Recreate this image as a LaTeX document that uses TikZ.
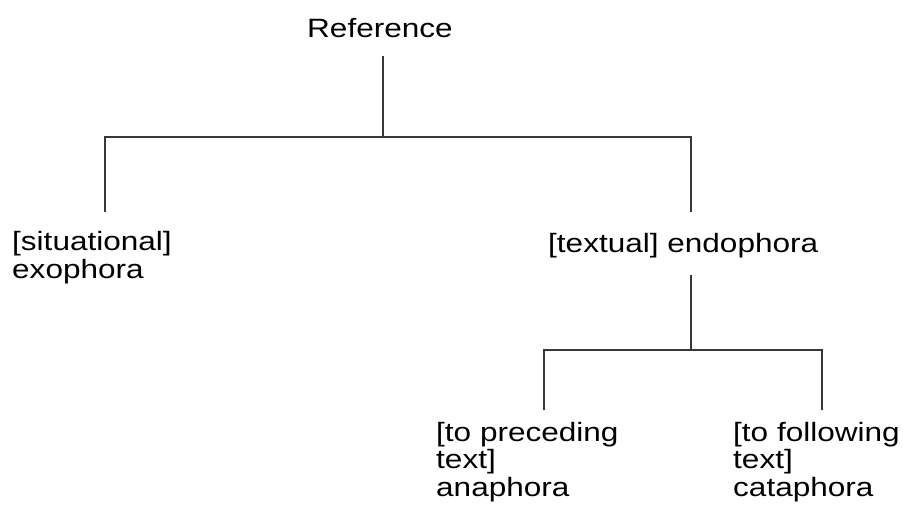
\documentclass[tikz,border=0pt]{standalone}
\usepackage{fontspec}
\setmainfont{Liberation Sans}[FakeStretch=1.19]
\usetikzlibrary{positioning}

\begin{document}
\begin{tikzpicture}[x=1pt,y=-1pt,
		lbl/.style={inner sep=0pt,anchor=base west,align=left,font=\fontsize{26.5}{27.5}\selectfont},
		branch/.style={line width=1.2pt,draw=black!78}]
		\useasboundingbox (0,0) rectangle (903,514);
		% labels (base = last line)
		\node[lbl] (ref) at (307,37) {Reference};
		\node[lbl] (exo) at (12,278) {[situational]\\exophora};
		\node[lbl] (endo) at (548,252) {[textual] endophora};
		\node[lbl] (ana) at (436,496) {[to preceding\\text]\\anaphora};
		\node[lbl] (cata) at (733,496) {[to following\\text]\\cataphora};
		% line ends
		\coordinate (reftop) at (383,56);
		\coordinate (split) at (383,137);
		\coordinate (exotop) at (105,212);
		\coordinate (endotop) at (691,212);
		\coordinate (endobot) at (691,275);
		\coordinate (split2) at (691,350);
		\coordinate (anatop) at (544,410);
		\coordinate (catatop) at (822,410);
		% tree
		\draw[branch] (reftop) -- (split);
		\draw[branch] (exotop) |- (split) -| (endotop);
		\draw[branch] (endobot) -- (split2);
		\draw[branch] (anatop) |- (split2) -| (catatop);
	\end{tikzpicture}
\end{document}
